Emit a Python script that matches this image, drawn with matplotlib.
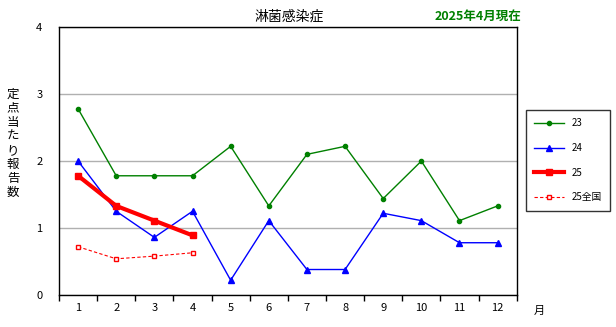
import matplotlib
matplotlib.use("Agg")
import matplotlib.pyplot as plt

plt.rcParams['font.family'] = ['Noto Sans CJK JP', 'DejaVu Sans']

months = ['1', '2', '3', '4', '5', '6', '7', '8', '9', '10', '11', '12']
s23 = [2.78, 1.78, 1.78, 1.78, 2.22, 1.33, 2.10, 2.22, 1.44, 2.00, 1.11, 1.33]
s24 = [2.00, 1.25, 0.86, 1.25, 0.22, 1.11, 0.38, 0.38, 1.22, 1.11, 0.78, 0.78]
s25 = [1.78, 1.33, 1.11, 0.89]
s25zen = [0.72, 0.54, 0.58, 0.63]
labels = ['23', '24', '25', '25全国']
title = '淋菌感染症'
status = '2025年4月現在'
ylabel_chars = ['定', '点', '当', 'た', 'り', '報', '告', '数']

fig = plt.figure(figsize=(6.16, 3.27), dpi=100)
ax = fig.add_axes([0.0958, 0.098, 0.743, 0.819])

x = list(range(1, 13))
ax.plot(x, s23, color='#008000', lw=1, marker='o', ms=3, label=labels[0], zorder=3)
ax.plot(x, s24, color='#0000FF', lw=1, marker='^', ms=4.5, label=labels[1], zorder=3)
ax.plot(x[:4], s25, color='#FF0000', lw=3, marker='s', ms=4, label=labels[2], zorder=4)
ax.plot(x[:4], s25zen, color='#FF0000', lw=0.8, ls=(0, (3, 2)), marker='s', ms=3.5,
        mfc='white', mec='#FF0000', mew=1, label=labels[3], zorder=3)

ax.set_xlim(0.5, 12.5)
ax.set_ylim(0, 4)
ax.set_yticks([0, 1, 2, 3, 4])
ax.set_yticklabels(['0', '1', '2', '3', '4'], fontsize=8)
ax.yaxis.grid(True, color='#B0B0B0', lw=1)
ax.set_axisbelow(True)
ax.tick_params(axis='y', length=0, pad=12)

ax.set_xticks(x)
ax.set_xticklabels(months, fontsize=8)
ax.tick_params(axis='x', length=0, pad=6)
ax.set_xticks([i + 0.5 for i in range(0, 13)], minor=True)
ax.tick_params(axis='x', which='minor', length=4, direction='out', width=1)

for sp in ax.spines.values():
    sp.set_color('black')
    sp.set_linewidth(1)

fig.text(0.47, 0.948, title, ha='center', va='center', fontsize=10)
fig.text(0.776, 0.951, status, ha='center', va='center', fontsize=9, color='#008000', fontweight='bold')
fig.text(0.875, 0.05, '月', ha='center', va='center', fontsize=8)

for i, ch in enumerate(ylabel_chars):
    ypix = 94 + i * 14.1
    fig.text(13 / 616, 1 - ypix / 327, ch, ha='center', va='center', fontsize=9)

leg = fig.legend(loc='center', bbox_to_anchor=(0.922, 0.51), fontsize=7, frameon=True,
                 fancybox=False, edgecolor='black', handlelength=3.0, labelspacing=1.5,
                 borderpad=0.9, handletextpad=0.8)
leg.get_frame().set_linewidth(1)

fig.savefig('out.png', dpi=100)
